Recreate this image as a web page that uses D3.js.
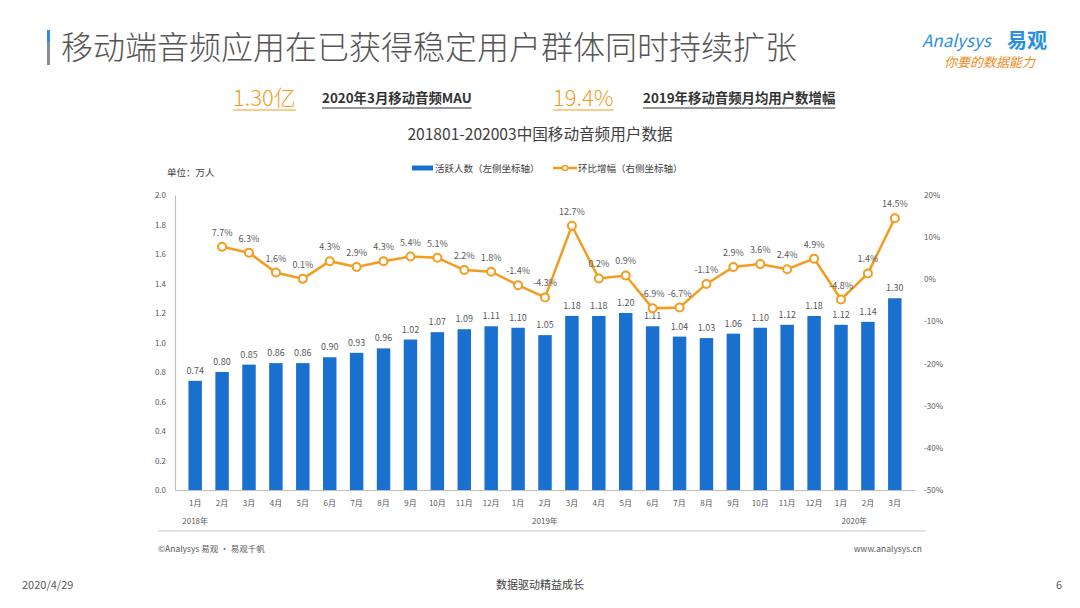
<!DOCTYPE html>
<html>
<head>
<meta charset="utf-8">
<script src="https://cdn.jsdelivr.net/npm/d3@7"></script>
<style>
  body { margin: 0; background: #fff; }
  svg text { font-family: "Noto Sans CJK SC", "Open Sans", sans-serif; }
</style>
</head>
<body>
<div id="chart"></div>
<script>
// data
const months = ["1月","2月","3月","4月","5月","6月","7月","8月","9月","10月","11月","12月",
    "1月","2月","3月","4月","5月","6月","7月","8月","9月","10月","11月","12月",
    "1月","2月","3月"];
const users = [0.74,0.80,0.85,0.86,0.86,0.90,0.93,0.96,1.02,1.07,1.09,1.11,
    1.10,1.05,1.18,1.18,1.20,1.11,1.04,1.03,1.06,1.10,1.12,1.18,
    1.12,1.14,1.30];
// first month has no growth value
const growth = [null,7.7,6.3,1.6,0.1,4.3,2.9,4.3,5.4,5.1,2.2,1.8,
    -1.4,-4.3,12.7,0.2,0.9,-6.9,-6.7,-1.1,2.9,3.6,2.4,4.9,
    -4.8,1.4,14.5];
const years = [{label: "2018年", at: 0}, {label: "2019年", at: 13}, {label: "2020年", at: 24.5}];
const leftTicks = [0,0.2,0.4,0.6,0.8,1.0,1.2,1.4,1.6,1.8,2.0];
const rightTicks = [-50,-40,-30,-20,-10,0,10,20];

const W = 1080, H = 608;
const blue = "#1a70cf", orange = "#f39c1f", grey = "#595959";

const svg = d3.select("#chart").append("svg")
    .attr("width", W).attr("height", H);

// ---- header
svg.append("rect").attr("x", 47).attr("y", 30).attr("width", 3).attr("height", 12).attr("fill", "#2b8fe0");
svg.append("rect").attr("x", 47).attr("y", 42).attr("width", 3).attr("height", 23).attr("fill", "#8c8c8c");
svg.append("text").attr("x", 61).attr("y", 59)
    .attr("font-size", 32).attr("font-weight", 300).attr("fill", "#555")
    .text("移动端音频应用在已获得稳定用户群体同时持续扩张");

svg.append("text").attr("x", 922).attr("y", 47)
    .attr("font-size", 17).attr("fill", "#2b8fe0").attr("font-style", "italic")
    .attr("font-family", "Lato, sans-serif")
    .text("Analysys");
svg.append("text").attr("x", 1007).attr("y", 48)
    .attr("font-size", 20).attr("font-weight", "bold").attr("fill", "#2b8fe0")
    .text("易观");
svg.append("text").attr("x", 944).attr("y", 67)
    .attr("font-size", 13).attr("fill", "#f08a1c").attr("font-style", "italic")
    .text("你要的数据能力");

// ---- key figures
const kpis = [
    {big: "1.30亿", x: 233, label: "2020年3月移动音频MAU", lx: 322},
    {big: "19.4%", x: 553, label: "2019年移动音频月均用户数增幅", lx: 643}
];
kpis.forEach(k => {
    const b = svg.append("text").attr("x", k.x).attr("y", 106)
        .attr("font-size", 22).attr("fill", orange)
        .attr("font-family", "Open Sans, sans-serif").attr("font-weight", 300)
        .text(k.big);
    const bw = b.node().getComputedTextLength();
    svg.append("line").attr("x1", k.x).attr("x2", k.x + bw).attr("y1", 110).attr("y2", 110)
        .attr("stroke", orange).attr("stroke-width", 1);
    const t = svg.append("text").attr("x", k.lx).attr("y", 103)
        .attr("font-size", 13.4).attr("font-weight", "bold").attr("fill", "#333")
        .text(k.label);
    const tw = t.node().getComputedTextLength();
    svg.append("line").attr("x1", k.lx).attr("x2", k.lx + tw).attr("y1", 108).attr("y2", 108)
        .attr("stroke", "#333").attr("stroke-width", 1);
});

svg.append("text").attr("x", 540).attr("y", 140).attr("text-anchor", "middle")
    .attr("font-size", 15.6).attr("fill", "#404040")
    .text("201801-202003中国移动音频用户数据");

svg.append("text").attr("x", 167).attr("y", 176)
    .attr("font-size", 9.5).attr("fill", "#404040").text("单位：万人");

// legend
svg.append("rect").attr("x", 412).attr("y", 165.5).attr("width", 21).attr("height", 5).attr("fill", blue);
svg.append("text").attr("x", 435).attr("y", 171.5).attr("font-size", 9.5).attr("fill", "#404040")
    .text("活跃人数（左侧坐标轴）");
svg.append("line").attr("x1", 553).attr("x2", 577).attr("y1", 168).attr("y2", 168)
    .attr("stroke", orange).attr("stroke-width", 2.5);
svg.append("circle").attr("cx", 565).attr("cy", 168).attr("r", 2.5)
    .attr("fill", "#fff").attr("stroke", orange).attr("stroke-width", 1.5);
svg.append("text").attr("x", 578).attr("y", 171.5).attr("font-size", 9.5).attr("fill", "#404040")
    .text("环比增幅（右侧坐标轴）");

// ---- scales
const x = d3.scaleBand().domain(d3.range(months.length)).range([175, 915]).padding(0.5);
const yL = d3.scaleLinear().domain([0, 2]).range([490, 195]);
const yR = d3.scaleLinear().domain([-50, 20]).range([490, 195]);

// axes
const axL = svg.append("g").attr("transform", "translate(175,0)")
    .call(d3.axisLeft(yL).tickValues(leftTicks).tickFormat(d3.format(".1f")).tickSize(0).tickPadding(9));
axL.select(".domain").attr("stroke", "#bfbfbf").attr("stroke-width", 1.2);
axL.selectAll("text").attr("font-size", 8).attr("fill", grey).attr("font-family", "Open Sans, sans-serif");

const axR = svg.append("g").attr("transform", "translate(915,0)")
    .call(d3.axisRight(yR).tickValues(rightTicks).tickFormat(d => d + "%").tickSize(0).tickPadding(9));
axR.select(".domain").remove();
axR.selectAll("text").attr("font-size", 8).attr("fill", grey).attr("font-family", "Open Sans, sans-serif");

const axB = svg.append("g").attr("transform", "translate(0,490)")
    .call(d3.axisBottom(x).tickFormat(i => months[i]).tickSize(0).tickPadding(10));
axB.select(".domain").attr("stroke", "#bfbfbf").attr("stroke-width", 1.2);
axB.selectAll("text").attr("font-size", 8).attr("fill", grey);

svg.selectAll(".year").data(years).enter().append("text")
    .attr("x", d => x(Math.floor(d.at)) + x.bandwidth() / 2 + (d.at % 1) * x.step())
    .attr("y", 524).attr("text-anchor", "middle")
    .attr("font-size", 8).attr("fill", grey)
    .text(d => d.label);

// ---- bars
svg.selectAll(".bar").data(users).enter().append("rect")
    .attr("x", (d, i) => x(i))
    .attr("y", d => yL(d))
    .attr("width", x.bandwidth())
    .attr("height", d => yL(0) - yL(d))
    .attr("fill", blue);

svg.selectAll(".barlabel").data(users).enter().append("text")
    .attr("x", (d, i) => x(i) + x.bandwidth() / 2)
    .attr("y", d => yL(d) - 7)
    .attr("text-anchor", "middle")
    .attr("font-size", 9).attr("fill", grey).attr("font-family", "Open Sans, sans-serif")
    .text(d => d.toFixed(2));

// ---- growth line
const pts = growth.map((v, i) => ({i, v})).filter(d => d.v !== null);
const line = d3.line().x(d => x(d.i) + x.bandwidth() / 2).y(d => yR(d.v));
svg.append("path").datum(pts).attr("d", line)
    .attr("fill", "none").attr("stroke", orange).attr("stroke-width", 2.5);

svg.selectAll(".pt").data(pts).enter().append("circle")
    .attr("cx", d => x(d.i) + x.bandwidth() / 2)
    .attr("cy", d => yR(d.v))
    .attr("r", 4)
    .attr("fill", "#fff").attr("stroke", orange).attr("stroke-width", 2);

svg.selectAll(".ptlabel").data(pts).enter().append("text")
    .attr("x", d => x(d.i) + x.bandwidth() / 2)
    .attr("y", d => yR(d.v) - 11)
    .attr("text-anchor", "middle")
    .attr("font-size", 9).attr("fill", grey).attr("font-family", "Open Sans, sans-serif")
    .text(d => d.v.toFixed(1) + "%");

// ---- footer
svg.append("line").attr("x1", 158).attr("x2", 926).attr("y1", 531).attr("y2", 531)
    .attr("stroke", "#c8c8c8").attr("stroke-width", 1);
svg.append("text").attr("x", 158).attr("y", 552).attr("font-size", 8.5).attr("fill", grey)
    .text("©Analysys 易观 · 易观千帆");
svg.append("text").attr("x", 922).attr("y", 552).attr("text-anchor", "end")
    .attr("font-size", 8.5).attr("fill", grey).text("www.analysys.cn");

svg.append("text").attr("x", 22).attr("y", 589).attr("font-size", 11).attr("fill", grey).text("2020/4/29");
svg.append("text").attr("x", 540).attr("y", 589).attr("text-anchor", "middle")
    .attr("font-size", 11).attr("fill", "#404040").text("数据驱动精益成长");
svg.append("text").attr("x", 1062).attr("y", 589).attr("text-anchor", "end")
    .attr("font-size", 11).attr("fill", grey).text("6");
</script>
</body>
</html>
